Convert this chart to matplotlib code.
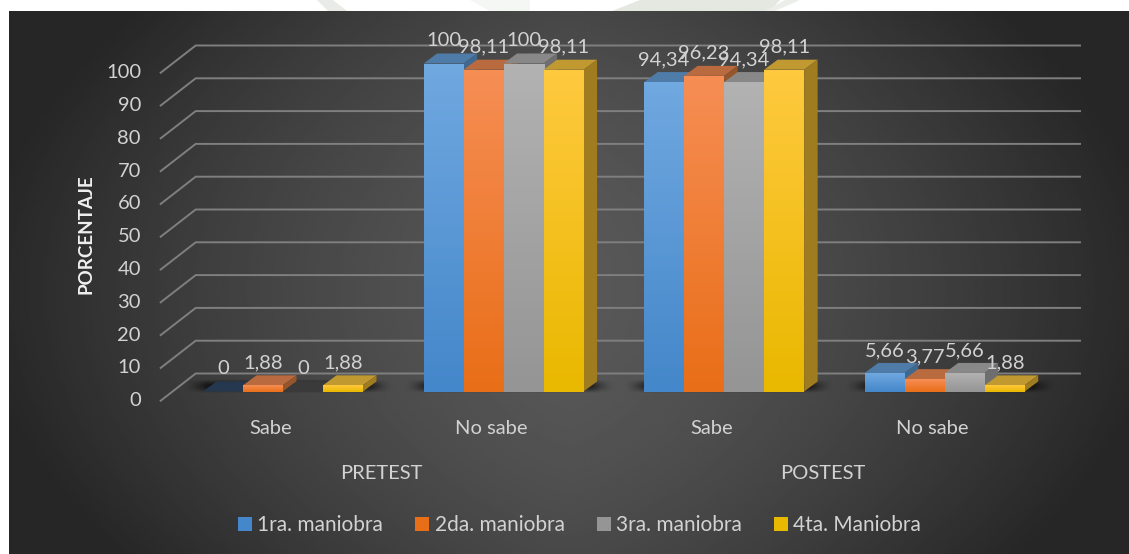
"""Grouped pseudo-3D column chart on a dark gradient panel (PRETEST / POSTEST)."""
import numpy as np
import matplotlib
matplotlib.use("Agg")
import matplotlib.pyplot as plt
from matplotlib.colors import LinearSegmentedColormap
from matplotlib.patches import Patch, Polygon

W, H = 1129, 554

categories = ["Sabe", "No sabe", "Sabe", "No sabe"]
phases = ["PRETEST", "POSTEST"]
series_names = ["1ra. maniobra", "2da. maniobra", "3ra. maniobra", "4ta. Maniobra"]
maniobra_1 = [0, 100, 94.34, 5.66]
maniobra_2 = [1.88, 98.11, 96.23, 3.77]
maniobra_3 = [0, 100, 94.34, 5.66]
maniobra_4 = [1.88, 98.11, 98.11, 1.88]
series = [maniobra_1, maniobra_2, maniobra_3, maniobra_4]
y_ticks = list(range(0, 101, 10))

# (front top, front bottom, top face, side face, top face when value is 0)
STYLES = [
    ("#70a8e0", "#4487ca", "#4f7ba8", "#41688f", "#25384f"),
    ("#f68e54", "#e96e18", "#b96a3e", "#96562c", "#b96a3e"),
    ("#b2b2b2", "#959595", "#888888", "#6e6e6e", "#3a3a3a"),
    ("#ffc93e", "#e9b800", "#c09a30", "#9f7c20", "#c09a30"),
]
TEXT = "#d2d2d2"
GRID = "#7f7f7f"
FS = 14.5
plt.rcParams["font.family"] = ["Lato", "DejaVu Sans"]

fig = plt.figure(figsize=(W / 100, H / 100), dpi=100, facecolor="white")

# background panel, in pixel coordinates
bg = fig.add_axes([0, 0, 1, 1], zorder=0)
bg.axis("off")
for pts, col in [([(317, 0), (333, 0), (347, 11), (328, 11)], "#e8ebe6"),
                 ([(470, 0), (530, 0), (530, 11), (490, 11)], "#f5f7f4"),
                 ([(640, 0), (780, 0), (770, 11), (612, 11)], "#e4e8e0"),
                 ([(785, 0), (800, 0), (775, 11), (765, 11)], "#eceee9")]:
    bg.add_patch(Polygon(pts, closed=True, fc=col, ec="none"))
xx, yy = np.meshgrid(np.linspace(9, W, 400), np.linspace(11, H, 200))
shade = 88 - 46 * (np.abs(xx - 570) / 560) ** 1.4 - 16 * ((yy - 290) / 270) ** 2
shade = np.clip(shade, 38, 90) / 255
bg.imshow(shade, cmap="gray", vmin=0, vmax=1, extent=(9, W, H, 11), aspect="auto",
          interpolation="bilinear")
bg.set_xlim(0, W)
bg.set_ylim(H, 0)

# main axes = the front plane of the columns
LEFT, RIGHT, BASE, TOP = 172.7, 1055.0, 391.5, 63.5
ax = fig.add_axes([LEFT / W, 1 - BASE / H, (RIGHT - LEFT) / W, (BASE - TOP) / H], zorder=1)
ax.axis("off")
ax.patch.set_alpha(0)

px_x = 4 / (RIGHT - LEFT)
px_y = 100 / (BASE - TOP)
BAR_W = 40 * px_x

# walls and floor lines
for v in y_ticks:
    ax.plot([-0.5 - 12 * px_x, -0.5 + 23 * px_x, 3.5 + 25 * px_x],
            [v - 9.2 * px_y, v + 18 * px_y, v + 18 * px_y],
            color=GRID, lw=1.4, clip_on=False, zorder=1, solid_joinstyle="miter")
    ax.annotate(str(v), (-0.5, v), xytext=(-31.7 * 0.72, -9.2 * 0.72),
                textcoords="offset points", ha="right", va="center",
                color=TEXT, fontsize=FS, annotation_clip=False)

# soft shadows on the floor
alpha_x = np.linspace(-1, 1, 300)
alpha_y = np.linspace(0, 1, 40)
for i in range(len(categories)):
    shadow = np.zeros((40, 300, 4))
    edge = np.clip((1 - np.abs(alpha_x)) / 0.22, 0, 1) ** 1.5
    shadow[..., 3] = 0.62 * np.outer(np.sin(np.pi * alpha_y) ** 1.2, edge)
    ax.imshow(shadow, extent=(i - 100 * px_x, i + 110 * px_x, -1 * px_y, 13 * px_y),
              aspect="auto", zorder=1.5, clip_on=False, interpolation="bilinear")

# columns, left to right so each one overlaps its neighbour's side face
DEPTH_X, DEPTH_Y = 13.5 * px_x, 10 * px_y
for i in range(len(categories)):
    for j, values in enumerate(series):
        v = values[i]
        x0 = i + (j - 2) * BAR_W
        x1 = x0 + BAR_W
        top, bottom, top_face, side_face, zero_face = STYLES[j]
        z = 2 + i + j * 0.1
        ax.add_patch(Polygon([(x0, v), (x1, v), (x1 + DEPTH_X, v + DEPTH_Y), (x0 + DEPTH_X, v + DEPTH_Y)],
                             closed=True, fc=zero_face if v == 0 else top_face, ec="none",
                             zorder=z, clip_on=False))
        if v > 0:
            ax.add_patch(Polygon([(x1, 0), (x1 + DEPTH_X, DEPTH_Y), (x1 + DEPTH_X, v + DEPTH_Y), (x1, v)],
                                 closed=True, fc=side_face, ec="none", zorder=z, clip_on=False))
            cmap = LinearSegmentedColormap.from_list(f"bar{j}", [top, bottom])
            ax.imshow(np.linspace(0, 1, 64).reshape(-1, 1), cmap=cmap, extent=(x0, x1, 0, v),
                      aspect="auto", zorder=z + 0.01, clip_on=False)
ax.set_xlim(-0.5, 3.5)
ax.set_ylim(0, 100)

# data labels
for i in range(len(categories)):
    for j, values in enumerate(series):
        v = values[i]
        label = f"{v:.2f}".replace(".", ",") if v != int(v) else str(int(v))
        ax.annotate(label, (i + (j - 1.5) * BAR_W, v), xytext=(0, 22.5 * 0.72),
                    textcoords="offset points", ha="center", va="center",
                    color=TEXT, fontsize=FS, zorder=20, annotation_clip=False)

# category and phase labels
for i, name in enumerate(categories):
    ax.annotate(name, (i, 0), xytext=(-12 * 0.72, -37 * 0.72), textcoords="offset points",
                ha="center", va="center", color=TEXT, fontsize=FS, annotation_clip=False)
for k, name in enumerate(phases):
    ax.annotate(name, (2 * k + 0.5, 0), xytext=(-12 * 0.72, -82 * 0.72), textcoords="offset points",
                ha="center", va="center", color=TEXT, fontsize=FS, annotation_clip=False)

fig.text(86 / W, 1 - 234 / H, "PORCENTAJE", rotation=90, ha="center", va="center",
         color="#f0f0f0", fontsize=13.5, fontweight="bold")

handles = [Patch(fc=s[1], ec="none", label=n) for s, n in zip(STYLES, series_names)]
fig.legend(handles=handles, loc="center", bbox_to_anchor=(579.5 / W, 1 - 525 / H), ncol=4,
           frameon=False, fontsize=15, labelcolor=TEXT, handlelength=0.67, handleheight=0.67,
           handletextpad=0.25, columnspacing=1.54, borderpad=0)

fig.savefig("out.png", dpi=100, facecolor="white")
